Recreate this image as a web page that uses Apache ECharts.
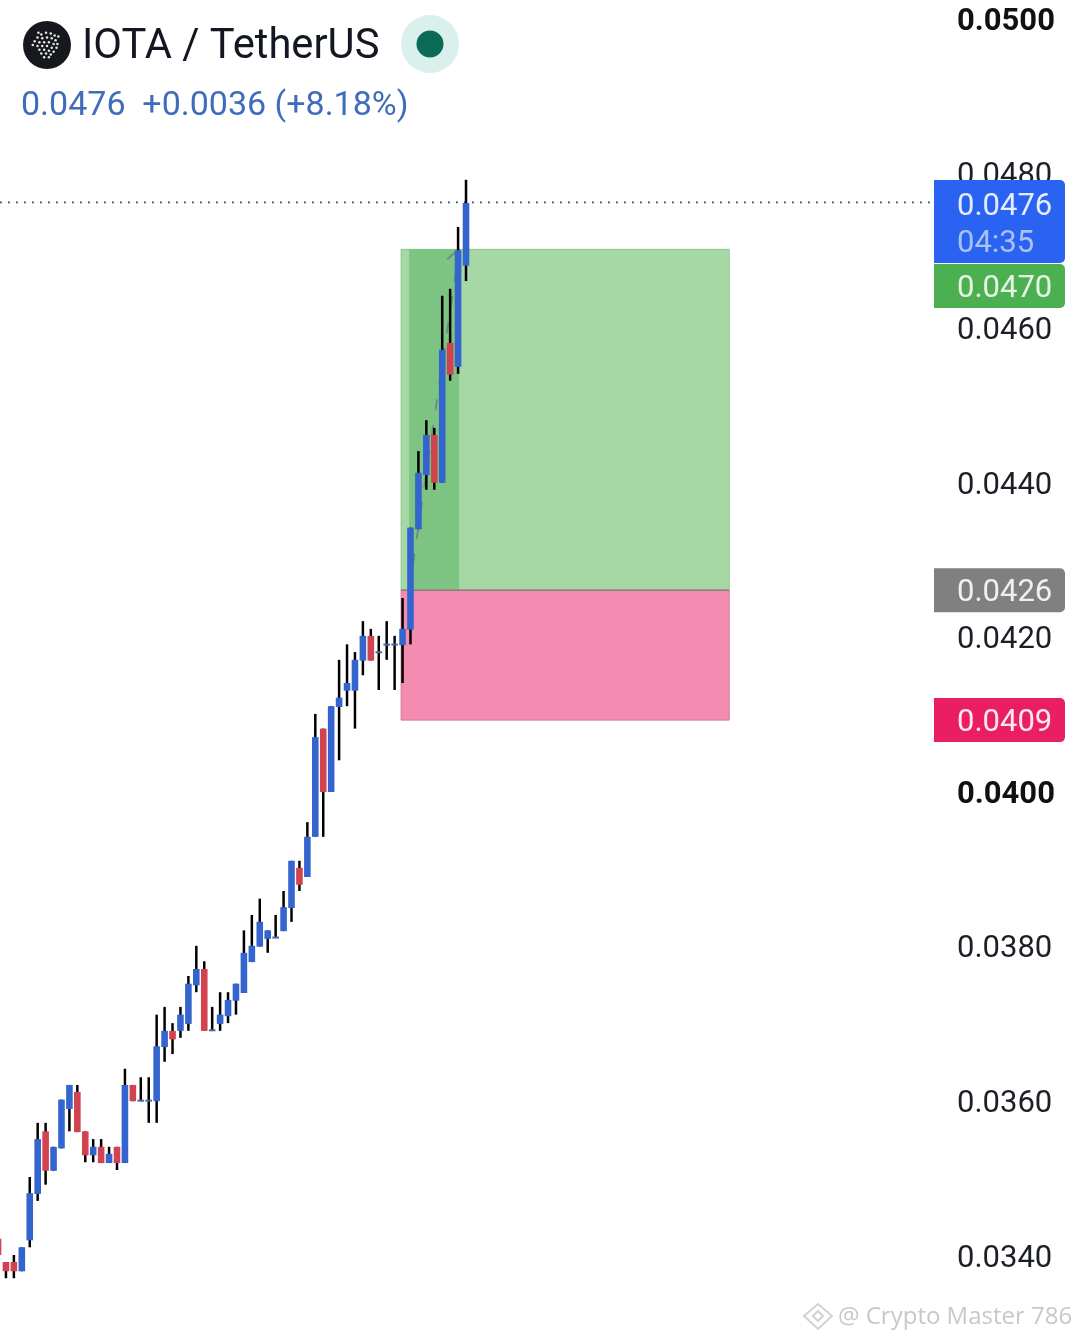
<!DOCTYPE html>
<html>
<head>
<meta charset="utf-8">
<style>html,body{margin:0;padding:0;background:#fff}#c{width:1080px;height:1340px}</style>
<script src="https://cdn.jsdelivr.net/npm/echarts@6/dist/echarts.min.js"></script>
</head>
<body>
<div id="c"></div>
<script>
const titleText = 'IOTA / TetherUS';
const quoteText = '0.0476  +0.0036 (+8.18%)';
const watermarkText = '@ Crypto Master 786';

const opens = [0.03422,0.03392,0.03392,0.03380,0.03420,0.03480,0.03561,0.03510,0.03539,0.03590,
0.03612,0.03561,0.03530,0.03541,0.03520,0.03541,0.03520,0.03621,0.03600,0.03600,
0.03600,0.03670,0.03691,0.03691,0.03700,0.03750,0.03771,0.03691,0.03700,0.03710,
0.03730,0.03740,0.03780,0.03800,0.03810,0.03811,0.03820,0.03850,0.03902,0.03890,
0.03942,0.04082,0.04000,0.04110,0.04131,0.04131,0.04170,0.04202,0.04180,0.04190,
0.04190,0.04190,0.04210,0.04340,0.04410,0.04462,0.04400,0.04581,0.04550,0.04681];
const closes = [0.03401,0.03380,0.03380,0.03411,0.03481,0.03551,0.03510,0.03541,0.03602,0.03621,
0.03560,0.03530,0.03541,0.03520,0.03532,0.03520,0.03621,0.03600,0.03602,0.03602,
0.03671,0.03691,0.03680,0.03712,0.03752,0.03771,0.03691,0.03693,0.03712,0.03731,
0.03752,0.03792,0.03801,0.03832,0.03821,0.03813,0.03851,0.03911,0.03880,0.03942,
0.04071,0.04000,0.04111,0.04122,0.04141,0.04171,0.04202,0.04170,0.04182,0.04192,
0.04192,0.04211,0.04342,0.04413,0.04462,0.04400,0.04572,0.04540,0.04701,0.04762];
const lows = [0.03401,0.03371,0.03371,0.03380,0.03411,0.03471,0.03492,0.03510,0.03539,0.03561,
0.03560,0.03521,0.03521,0.03520,0.03520,0.03511,0.03520,0.03600,0.03600,0.03572,
0.03572,0.03651,0.03661,0.03682,0.03691,0.03741,0.03691,0.03691,0.03691,0.03701,
0.03712,0.03740,0.03780,0.03800,0.03792,0.03811,0.03820,0.03832,0.03872,0.03890,
0.03942,0.03942,0.04000,0.04041,0.04111,0.04082,0.04151,0.04170,0.04132,0.04171,
0.04132,0.04141,0.04191,0.04340,0.04391,0.04391,0.04400,0.04532,0.04541,0.04661];
const highs = [0.03422,0.03392,0.03401,0.03411,0.03502,0.03572,0.03572,0.03541,0.03602,0.03621,
0.03621,0.03561,0.03551,0.03551,0.03541,0.03541,0.03642,0.03621,0.03631,0.03631,
0.03712,0.03722,0.03701,0.03722,0.03762,0.03801,0.03781,0.03722,0.03741,0.03741,
0.03752,0.03821,0.03841,0.03862,0.03821,0.03841,0.03872,0.03911,0.03911,0.03961,
0.04101,0.04082,0.04111,0.04171,0.04191,0.04181,0.04221,0.04211,0.04202,0.04221,
0.04202,0.04251,0.04342,0.04441,0.04481,0.04471,0.04642,0.04651,0.04731,0.04792];

const axisMin = 0.032, axisMax = 0.052, axisStep = 0.002;
const boldTicks = [0.05, 0.04];

const lastPrice = 0.04762;
const targetPrice = 0.04702;
const entryPrice = 0.04261;
const stopPrice = 0.04093;

// position tool bar range (bar indexes)
const toolStart = 50.82, toolEnd = 92.18;
const moveStart = 51.83, moveEnd = 58.13;

const tagPrices = [lastPrice, targetPrice, entryPrice, stopPrice];
const tagLines = [['0.0476','04:35'], ['0.0470'], ['0.0426'], ['0.0409']];

const rows = opens.map((o,i)=>[i,o,closes[i],lows[i],highs[i]]);
const BLUE='#3465cf', RED='#d2434f';
const FONT='Roboto, "Noto Sans", sans-serif';

function renderCandle(params, api){
  const x=api.value(0), o=api.value(1), c=api.value(2);
  const pHigh=api.coord([x,api.value(4)]), pLow=api.coord([x,api.value(3)]);
  const pO=api.coord([x,o]), pC=api.coord([x,c]);
  const top=Math.min(pO[1],pC[1]); let h=Math.abs(pO[1]-pC[1]);
  const doji=h<3; if(doji) h=2;
  const col=doji?'#4a6a9a':(c>=o?BLUE:RED);
  return {type:'group',children:[
    {type:'rect',shape:{x:pHigh[0]-1.25,y:pHigh[1],width:2.5,height:pLow[1]-pHigh[1]},style:{fill:'#000'}},
    {type:'rect',shape:{x:pHigh[0]-3.3,y:top,width:6.6,height:h},style:{fill:col}}
  ]};
}
function zoneRect(x0,x1,y0,y1,api,fill,stroke){
  const a=api.coord([x0,y0]), b=api.coord([x1,y1]);
  return {type:'rect',shape:{x:a[0],y:b[1],width:b[0]-a[0],height:a[1]-b[1]},style:{fill:fill,stroke:stroke,lineWidth:stroke?1:0}};
}
function renderTool(params,api){
  const a=api.coord([moveStart,entryPrice]), b=api.coord([moveEnd,targetPrice]);
  const ls={stroke:'#6d8f86',lineWidth:2,lineDash:[11,15]};
  return {type:'group',children:[
    zoneRect(toolStart,toolEnd,entryPrice,targetPrice,api,'#a6d8a5','#8ec48e'),
    zoneRect(moveStart,moveEnd,entryPrice,targetPrice,api,'#7dc381',null),
    zoneRect(toolStart,toolEnd,stopPrice,entryPrice,api,'#f48bb0','#d77495'),
    {type:'line',shape:{x1:api.coord([toolStart,0.04])[0],y1:a[1],x2:api.coord([toolEnd,0.04])[0],y2:a[1]},style:{stroke:'#8b7d80',lineWidth:1.5}},
    {type:'line',shape:{x1:a[0],y1:a[1],x2:b[0],y2:b[1]},style:ls},
    {type:'line',shape:{x1:b[0],y1:b[1],x2:b[0]-12,y2:b[1]+10},style:{stroke:'#6d8f86',lineWidth:2}}
  ]};
}
function renderLastLine(params,api){
  const cs=params.coordSys, y=api.coord([1,lastPrice])[1]-0.5;
  return {type:'line',shape:{x1:cs.x,y1:y,x2:cs.x+cs.width,y2:y},style:{stroke:'#24506a',lineWidth:1.8,lineDash:[1.8,6.2]}};
}
const tagFill=['#2a62f2','#4caf50','#808080','#e91e63'];
const tagText=[['#e4ecff','#a9c2f5'],['#e4f5e4'],['#f0f0f0'],['#fde6ee']];
function tagTops(api){
  let bottom=-1e9; return tagPrices.map((p,i)=>{
    const y=api.coord([1,p])[1], h=tagLines[i].length>1?83:44;
    let t=y-(tagLines[i].length>1?23:22);
    if(t<bottom) t=bottom+1;
    bottom=t+h; return {t:t,h:h};
  });
}
function renderTag(params,api){
  const i=api.value(0), cs=params.coordSys, x=cs.x+cs.width, b=tagTops(api)[i];
  const two=tagLines[i].length>1;
  const kids=[{type:'rect',shape:{x:x,y:b.t,width:131,height:b.h,r:[0,5,5,0]},style:{fill:tagFill[i]}}];
  tagLines[i].forEach((s,k)=>kids.push({type:'text',style:{text:s,x:x+23,y:b.t+(two?(k===0?27:64):25.5),fill:tagText[i][k],font:'31px '+FONT,verticalAlign:'middle',align:'left'}}));
  return {type:'group',children:kids};
}

const logoDots=[[-1,-13],[4,-12],[8,-10],[-6,-11],[-10,-8],[-5,-7],[0,-8],[5,-7],[9,-5],[-13,-4],[-8,-3],[-3,-3],[2,-3],[7,-1],[11,-1],
[-15,0],[-10,1],[-5,1],[0,1],[5,3],[10,3],[-8,5],[-3,5],[2,6],[7,7],[-6,9],[-1,9],[4,10],[-3,13],[2,13],[-9,-13],[12,-9]];
const logoChildren=logoDots.map(d=>({type:'circle',z:7,shape:{cx:47+d[0]*0.95,cy:45+d[1]*0.95,r:1.25},style:{fill:'#e8e8e8'}}));

const chart=echarts.init(document.getElementById('c'),null,{renderer:'canvas'});
chart.setOption({
  animation:false,
  backgroundColor:'#fff',
  title:[
    {text:titleText,left:82,top:27,padding:0,textStyle:{fontFamily:FONT,fontSize:41.7,fontWeight:'normal',color:'#131722'}},
    {text:quoteText,left:21,top:89,padding:0,textStyle:{fontFamily:FONT,fontSize:34,fontWeight:'normal',color:'#3f6dbb'}},
    {text:watermarkText,left:838,top:1305,padding:0,textStyle:{fontFamily:'"Open Sans", sans-serif',fontSize:24,fontWeight:'normal',color:'#c8c8c8'}}
  ],
  grid:{left:0,width:934,top:-135.6,height:1546,containLabel:false,outerBoundsMode:'none'},
  xAxis:{type:'value',min:0.25,max:118,show:false},
  yAxis:{type:'value',position:'right',min:axisMin,max:axisMax,interval:axisStep,
    axisLine:{show:false},axisTick:{show:false},splitLine:{show:false},
    axisLabel:{margin:23,padding:[6,0,0,0],fontFamily:FONT,fontSize:31,color:'#1c1f26',
      formatter:v=>{const s=v.toFixed(4);return boldTicks.some(t=>Math.abs(t-v)<1e-6)?'{b|'+s+'}':s;},
      rich:{b:{fontFamily:FONT,fontSize:31,fontWeight:'bold',color:'#111'}}}},
  graphic:[
    {type:'circle',shape:{cx:47,cy:45,r:24},style:{fill:'#16181d'},z:5},
    {type:'group',children:logoChildren},
    {type:'circle',shape:{cx:430,cy:44,r:29},style:{fill:'#daf0ec'},z:5},
    {type:'circle',shape:{cx:430,cy:44,r:13.5},style:{fill:'#0b6b57'},z:6},
    {type:'polygon',shape:{points:[[818,1304],[832,1316],[818,1329],[804,1316]]},style:{fill:'none',stroke:'#d2d2d2',lineWidth:2},z:5},
    {type:'polygon',shape:{points:[[818,1311],[823,1316],[818,1321],[813,1316]]},style:{fill:'none',stroke:'#d2d2d2',lineWidth:2},z:5}
  ],
  series:[
    {type:'custom',name:'position',z:1,coordinateSystem:'cartesian2d',silent:true,data:[[1,0.04]],encode:{x:0,y:1},renderItem:renderTool},
    {type:'custom',name:'last',z:2,coordinateSystem:'cartesian2d',silent:true,data:[[1,lastPrice]],encode:{x:0,y:1},renderItem:renderLastLine},
    {type:'custom',name:'candles',z:3,coordinateSystem:'cartesian2d',data:rows,encode:{x:0,y:[1,2,3,4]},renderItem:renderCandle},
    {type:'custom',name:'tags',z:10,coordinateSystem:'cartesian2d',silent:true,data:tagPrices.map((p,i)=>[i,p]),encode:{x:0,y:1},renderItem:renderTag}
  ]
});
</script>
</body>
</html>
